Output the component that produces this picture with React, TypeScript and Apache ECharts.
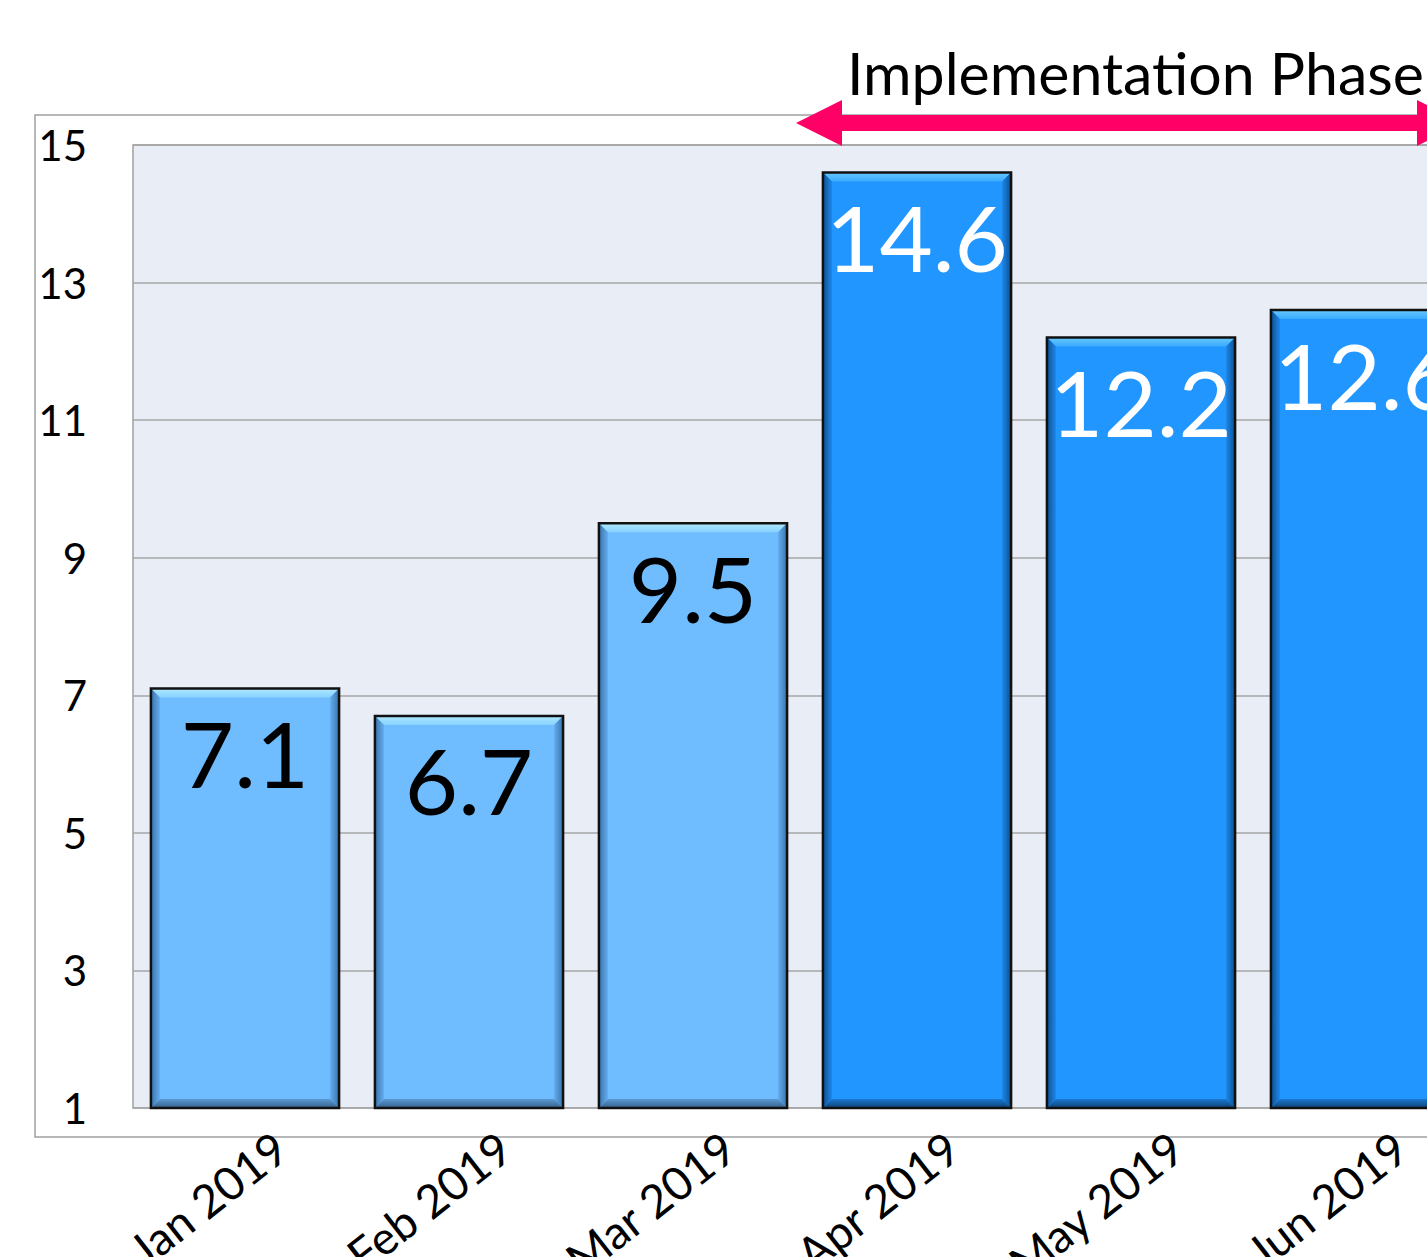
import React, { useEffect, useRef } from "react";
import * as echarts from "echarts";

const months = ["Jan 2019", "Feb 2019", "Mar 2019", "Apr 2019", "May 2019", "Jun 2019"];
const values = [7.1, 6.7, 9.5, 14.6, 12.2, 12.6];
const inPhase = [false, false, false, true, true, true];
const yTicks = { min: 1, max: 15, interval: 2 };
const phaseTitle = "Implementation Phase";

const FONT = "Lato";

const palette = {
  light: { main: "#6FBDFF", top: ["#B0E8FF", "#86D2FF"], side: ["#3A72AA", "#62AEEE"], bottom: ["#36618C", "#5A9AD2"], text: "#000000" },
  dark: { main: "#2196FF", top: ["#66C8FF", "#3AAAFF"], side: ["#0E4E90", "#1C88EA"], bottom: ["#0F4275", "#1A78D0"], text: "#FFFFFF" },
};

function lg(x1: number, y1: number, x2: number, y2: number, c: string[]) {
  return new echarts.graphic.LinearGradient(x1, y1, x2, y2, [
    { offset: 0, color: c[0] },
    { offset: 1, color: c[1] },
  ]);
}

export default function App() {
  const ref = useRef<HTMLDivElement>(null);
  useEffect(() => {
    if (!ref.current) return;
    const chart = echarts.init(ref.current, null, { renderer: "svg" });
    const gridLeft = 133;
    const gridTop = 145;
    const gridWidth = 224 * months.length;
    const gridHeight = 963;

    const renderItem = (params: any, api: any) => {
      const idx = api.value(0);
      const v = api.value(1);
      const topPt = api.coord([idx, v]);
      const basePt = api.coord([idx, yTicks.min]);
      const w = api.size([1, 0])[0] * 0.84;
      const l = topPt[0] - w / 2;
      const r = topPt[0] + w / 2;
      const t = topPt[1];
      const b = basePt[1];
      const bv = 9;
      const p = inPhase[idx] ? palette.dark : palette.light;
      return {
        type: "group",
        children: [
          { type: "rect", shape: { x: l, y: t, width: w, height: b - t }, style: { fill: p.main } },
          { type: "polygon", shape: { points: [[l, t], [r, t], [r - bv, t + bv], [l + bv, t + bv]] }, style: { fill: lg(0, 0, 0, 1, p.top) } },
          { type: "polygon", shape: { points: [[l, t], [l + bv, t + bv], [l + bv, b - bv], [l, b]] }, style: { fill: lg(0, 0, 1, 0, p.side) } },
          { type: "polygon", shape: { points: [[r, t], [r - bv, t + bv], [r - bv, b - bv], [r, b]] }, style: { fill: lg(1, 0, 0, 0, p.side) } },
          { type: "polygon", shape: { points: [[l, b], [r, b], [r - bv, b - bv], [l + bv, b - bv]] }, style: { fill: lg(0, 1, 0, 0, p.bottom) } },
          { type: "rect", shape: { x: l, y: t, width: w, height: b - t }, style: { fill: "none", stroke: "#111111", lineWidth: 2.5 } },
          {
            type: "text",
            style: {
              text: String(v),
              x: topPt[0],
              y: t + 64,
              align: "center",
              verticalAlign: "middle",
              fontSize: 92,
              fontFamily: FONT,
              fill: p.text,
            },
          },
        ],
      };
    };

    chart.setOption({
      animation: false,
      grid: {
        left: gridLeft,
        top: gridTop,
        width: gridWidth,
        height: gridHeight,
        show: true,
        backgroundColor: "#E9EDF6",
        borderColor: "#A0A0A0",
        borderWidth: 1.5,
        containLabel: false,
        outerBoundsMode: "none",
      },
      xAxis: {
        type: "category",
        data: months,
        axisTick: { show: false },
        axisLine: { show: false },
        axisLabel: {
          interval: 0,
          rotate: 38,
          fontSize: 46,
          lineHeight: 116,
          fontFamily: FONT,
          color: "#000",
          margin: -12,
          verticalAlign: "top",
        },
      },
      yAxis: {
        type: "value",
        min: yTicks.min,
        max: yTicks.max,
        interval: yTicks.interval,
        axisLine: { show: false },
        axisTick: { show: false },
        splitLine: { lineStyle: { color: "#A6A6A6", width: 1.5 } },
        axisLabel: {
          fontSize: 42,
          fontFamily: FONT,
          color: "#000",
          align: "right",
          margin: 46,
        },
      },
      series: [
        {
          type: "custom",
          renderItem,
          data: values.map((v, i) => [i, v]),
          encode: { x: 0, y: 1 },
          clip: false,
        },
      ],
    });

    const first = inPhase.indexOf(true);
    const last = inPhase.lastIndexOf(true);
    const xa = chart.convertToPixel({ xAxisIndex: 0 }, first) as number;
    const xb = chart.convertToPixel({ xAxisIndex: 0 }, last) as number;
    const tipL = xa - 121;
    const tipR = xb + 98;
    const ay = 123;
    const hw = 46;
    const hh = 23;
    const lh = 8;
    chart.setOption({
      graphic: [
        {
          type: "rect",
          shape: { x: 35, y: 115, width: gridLeft + gridWidth + 28 - 35, height: 1022 },
          style: { fill: "none", stroke: "#A0A0A0", lineWidth: 1.5 },
          z: 0,
          silent: true,
        },
        {
          type: "polygon",
          shape: {
            points: [
              [tipL, ay],
              [tipL + hw, ay - hh],
              [tipL + hw, ay - lh],
              [tipR - hw, ay - lh],
              [tipR - hw, ay - hh],
              [tipR, ay],
              [tipR - hw, ay + hh],
              [tipR - hw, ay + lh],
              [tipL + hw, ay + lh],
              [tipL + hw, ay + hh],
            ],
          },
          style: { fill: "#FF0066" },
          z: 10,
        },
        {
          type: "text",
          style: {
            text: phaseTitle,
            x: (tipL + tipR) / 2 + 6,
            y: 72,
            align: "center",
            verticalAlign: "middle",
            fontSize: 59,
            fontFamily: FONT,
            fill: "#000",
          },
          z: 10,
        },
      ],
    });

    return () => chart.dispose();
  }, []);

  return (
    <div style={{ position: "fixed", left: 0, top: 0, width: 1427, height: 1257, overflow: "hidden", background: "#fff" }}>
      <div ref={ref} style={{ width: 1540, height: 1257 }} />
    </div>
  );
}
